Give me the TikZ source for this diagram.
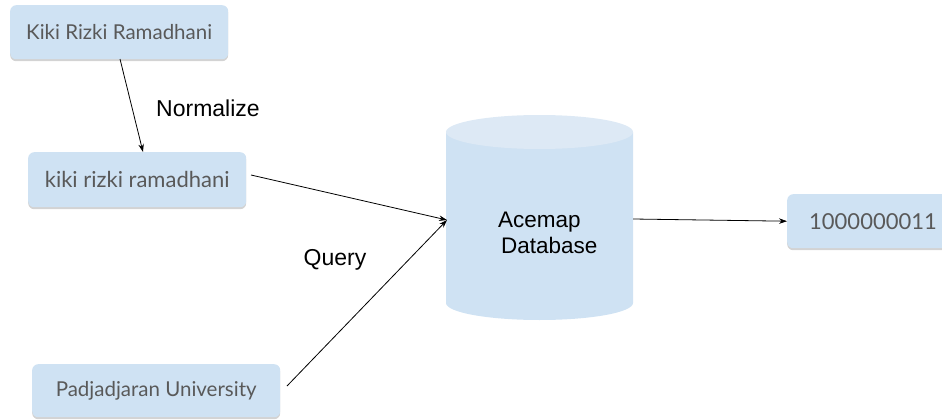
\documentclass[tikz,border=0pt]{standalone}
\usepackage{fontspec}
\setmainfont{Liberation Sans}
\newfontfamily\latofont{Lato}
\usetikzlibrary{shadows,shapes.geometric,arrows.meta}
\definecolor{boxblue}{HTML}{CFE2F3}
\definecolor{topblue}{HTML}{DDE9F5}
\definecolor{txtgray}{HTML}{595959}
\tikzset{
  namebox/.style={rectangle, rounded corners=6pt, fill=boxblue, draw=none,
    text=txtgray, font=\latofont\fontsize{20.5}{24}\selectfont,
    drop shadow={opacity=0.35, shadow xshift=0pt, shadow yshift=-2pt},
    inner sep=0pt, anchor=north west},
  bigtext/.style={font=\latofont\fontsize{22}{26}\selectfont},
  conn/.style={-{Stealth[length=8pt,width=5.5pt]}, line width=0.8pt, black},
  lbl/.style={font=\fontsize{23}{27}\selectfont, text=black}
}
\begin{document}
\begin{tikzpicture}[x=1pt,y=-1pt]
\useasboundingbox (0,0) rectangle (942,420);
\node[namebox, minimum width=218pt, minimum height=54pt] (b1) at (10,5) {Kiki Rizki Ramadhani};
\node[namebox, bigtext, minimum width=218pt, minimum height=55pt] (b2) at (28,152) {kiki rizki ramadhani};
\node[namebox, minimum width=248pt, minimum height=53pt] (b3) at (32,364) {Padjadjaran University};
\begin{scope}
\clip (0,0) rectangle (942,420);
\node[namebox, bigtext, minimum width=200pt, minimum height=54pt, text width=190pt, align=left] (b4) at (787,194) {\hspace*{17pt}1000000011};
\end{scope}
% cylinder
\fill[boxblue] (446,132) -- (446,303) arc[start angle=180, end angle=360, x radius=93.5pt, y radius=17pt] -- (633,132) -- cycle;
\fill[topblue] (539.5,132) ellipse[x radius=93.5pt, y radius=17pt];
\node[lbl, align=left, inner sep=0pt, anchor=north west, font=\fontsize{22.5}{25.5}\selectfont] (db) at (498,212) {Acemap\\\hspace*{3pt}Database};
\coordinate (dbin) at (447,220);
\coordinate (dbout) at (633,219);
\coordinate (s1) at (120,59);
\coordinate (e1) at (143,152);
\coordinate (s2) at (251,175);
\coordinate (s3) at (287,386);
\draw[conn] (s1) -- (e1);
\draw[conn] (s2) -- (dbin);
\draw[conn] (s3) -- (dbin);
\draw[conn] (dbout) -- (b4.west);
\node[lbl] (norm) at (208,108) {Normalize};
\node[lbl] (query) at (335,260) {Query};
\end{tikzpicture}
\end{document}
